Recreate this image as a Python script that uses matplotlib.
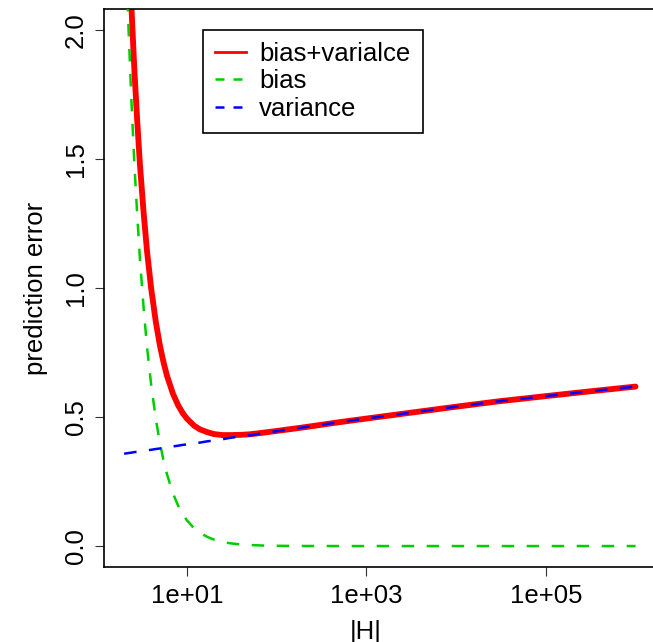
import matplotlib
matplotlib.use("Agg")
import matplotlib.pyplot as plt
from matplotlib.lines import Line2D

plt.rcParams['font.family'] = ['Liberation Sans', 'DejaVu Sans']

# |H| values (log axis)
H = [2, 2.2, 2.4, 2.6, 2.8, 3, 3.3, 3.6, 4, 4.5, 5, 5.5, 6, 7, 8, 9, 10, 12, 14,
     17, 20, 25, 30, 40, 50, 70, 100, 200, 500, 1e3, 3e3, 1e4, 3e4, 1e5, 3e5, 1e6]
bias = [2.50, 2.07, 1.74, 1.48, 1.28, 1.11, 0.92, 0.77, 0.625, 0.494, 0.400, 0.331,
        0.278, 0.204, 0.156, 0.123, 0.100, 0.069, 0.051, 0.035, 0.025, 0.016, 0.011,
        0.006, 0.004, 0.002, 0.001, 0.0003, 0.0, 0.0, 0.0, 0.0, 0.0, 0.0, 0.0, 0.0]
variance = [0.358, 0.360, 0.362, 0.364, 0.365, 0.367, 0.369, 0.371, 0.373, 0.376,
            0.378, 0.380, 0.382, 0.386, 0.389, 0.392, 0.394, 0.398, 0.401, 0.406,
            0.409, 0.414, 0.419, 0.425, 0.429, 0.437, 0.445, 0.460, 0.480, 0.494,
            0.516, 0.540, 0.561, 0.581, 0.599, 0.618]
total = [2.858, 2.430, 2.102, 1.844, 1.645, 1.477, 1.289, 1.141, 0.998, 0.870,
         0.778, 0.711, 0.660, 0.590, 0.545, 0.515, 0.494, 0.467, 0.452, 0.441,
         0.434, 0.430, 0.430, 0.431, 0.433, 0.439, 0.446, 0.460, 0.480, 0.494,
         0.516, 0.540, 0.561, 0.581, 0.599, 0.618]

legend_labels = ["bias+varialce", "bias", "variance"]
xtick_vals = [1e1, 1e3, 1e5]
xtick_labels = ["1e+01", "1e+03", "1e+05"]
ytick_vals = [0.0, 0.5, 1.0, 1.5, 2.0]
ytick_labels = ["0.0", "0.5", "1.0", "1.5", "2.0"]

RED = "#FF0000"
GREEN = "#00CD00"
BLUE = "#0000FF"
FS = 18.5

fig = plt.figure(figsize=(6.53, 6.42), dpi=100)
ax = fig.add_axes([0.1588, 0.1173, 1.0046 - 0.1588, 0.9855 - 0.1173])

ax.plot(H, total, color=RED, lw=4.2, solid_capstyle='round', zorder=2)
ax.plot(H, bias, color=GREEN, lw=1.8, dashes=(5, 5), zorder=3)
ax.plot(H, variance, color=BLUE, lw=1.8, dashes=(5, 5), zorder=4)

ax.set_xscale('log')
ax.set_xlim(10 ** 0.073, 10 ** 6.228)
ax.set_ylim(-0.08, 2.08)

ax.set_xticks(xtick_vals)
ax.set_xticklabels(xtick_labels)
ax.xaxis.set_minor_locator(matplotlib.ticker.NullLocator())
ax.set_yticks(ytick_vals)
ax.set_yticklabels(ytick_labels, rotation=90, va='center')
ax.tick_params(axis='both', labelsize=FS, length=6.2, width=0.8, direction='out', color='#333333')
ax.tick_params(axis='x', pad=6)
ax.tick_params(axis='y', pad=5)

ax.set_ylabel("prediction error", fontsize=FS)
ax.set_xlabel("|H|", fontsize=FS)
ax.yaxis.set_label_coords(-(103.7 - 48) / 552.3, 0.5)
ax.xaxis.set_label_coords((366 - 103.7) / 552.3, -(620 - 566.7) / 557.4)

for s in ['left', 'bottom', 'top', 'right']:
    ax.spines[s].set_linewidth(1.2)
    ax.spines[s].set_color('black')

handles = [Line2D([], [], color=RED, lw=2.0),
           Line2D([], [], color=GREEN, lw=1.8, dashes=(3.6, 3.6)),
           Line2D([], [], color=BLUE, lw=1.8, dashes=(3.6, 3.6))]
leg = ax.legend(handles, legend_labels, loc='upper left',
                bbox_to_anchor=((203 - 103.7) / 552.3, (566.7 - 30) / 557.4),
                borderaxespad=0, fontsize=FS, frameon=True, fancybox=False,
                edgecolor='black', framealpha=1, handlelength=1.2,
                handletextpad=0.5, labelspacing=0.12, borderpad=0.48)
leg.get_frame().set_linewidth(1.2)

fig.savefig("out.png", dpi=100)
